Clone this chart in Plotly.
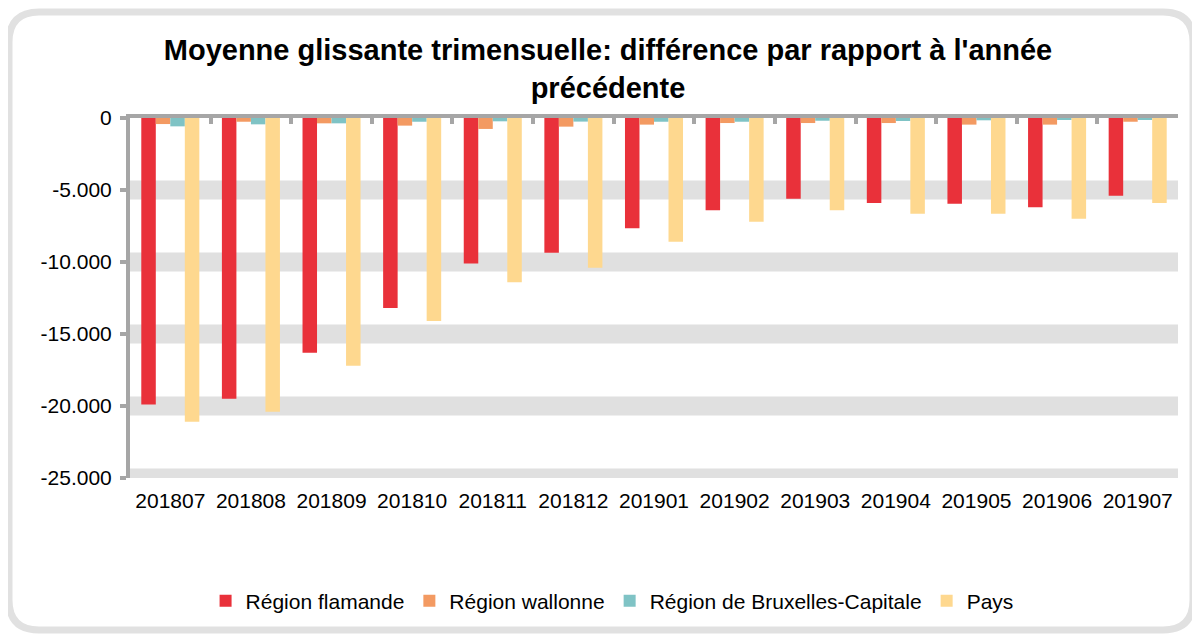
"""
Moyenne glissante trimensuelle : différence par rapport à l'année précédente.
Bar chart per region, rebuilt in Plotly.
"""

import plotly.graph_objects as go

MONTHS = ["201807", "201808", "201809", "201810", "201811", "201812", "201901",
          "201902", "201903", "201904", "201905", "201906", "201907"]

FLANDRE = [-19900, -19500, -16300, -13200, -10100, -9350, -7650,
           -6400, -5600, -5900, -5950, -6200, -5400]
WALLONIE = [-420, -260, -370, -530, -760, -600, -460,
            -350, -350, -350, -460, -460, -260]
BRUXELLES = [-580, -440, -370, -260, -230, -250, -260,
             -260, -190, -210, -160, -140, -120]
PAYS = [-21100, -20400, -17200, -14100, -11400, -10400, -8600,
        -7200, -6400, -6650, -6650, -7000, -5900]

SERIES_NAMES = ["Région flamande", "Région wallonne", "Région de Bruxelles-Capitale", "Pays"]
SERIES_COLORS = ["#e9313a", "#f39a62", "#7fc3c5", "#fed88f"]

Y_TICKS = [0, -5000, -10000, -15000, -20000, -25000]
Y_TICK_LABELS = ["0", "-5.000", "-10.000", "-15.000", "-20.000", "-25.000"]

TITLE = "Moyenne glissante trimensuelle: différence par rapport à l'année<br>précédente"

FONT = "Liberation Sans, Arial, sans-serif"
AXIS_GREY = "#a6a6a6"
BAND_GREY = "#e0e0e0"

# the page body has an 8px margin, so the figure is shrunk by that much
BODY = 8
W, H = 1200 - BODY, 635 - BODY
M = dict(l=122, r=22, t=110, b=157)


def to_paper(px, py):
    # pixel position on the page -> paper coordinates of the plot area
    pw = W - M["l"] - M["r"]
    ph = H - M["t"] - M["b"]
    fx, fy = px - BODY, py - BODY
    return (fx - M["l"]) / pw, (H - M["b"] - fy) / ph


def rounded_rect_path(x0, y0, x1, y1, r):
    pts = [
        ("M", [(x0 + r, y0)]),
        ("L", [(x1 - r, y0)]),
        ("Q", [(x1, y0), (x1, y0 + r)]),
        ("L", [(x1, y1 - r)]),
        ("Q", [(x1, y1), (x1 - r, y1)]),
        ("L", [(x0 + r, y1)]),
        ("Q", [(x0, y1), (x0, y1 - r)]),
        ("L", [(x0, y0 + r)]),
        ("Q", [(x0, y0), (x0 + r, y0)]),
    ]
    parts = []
    for cmd, coords in pts:
        xy = " ".join(f"{a:.5f},{b:.5f}" for a, b in (to_paper(*c) for c in coords))
        parts.append(f"{cmd} {xy}")
    return " ".join(parts) + " Z"


fig = go.Figure()

for name, vals, color in zip(SERIES_NAMES, [FLANDRE, WALLONIE, BRUXELLES, PAYS], SERIES_COLORS):
    fig.add_trace(go.Bar(
        x=MONTHS, y=vals, name=name,
        marker=dict(color=color, line=dict(width=0)),
        hovertemplate="%{x}<br>" + name + ": %{y:,.0f}<extra></extra>",
    ))

# invisible trace so the top category axis (line + boundary ticks) gets drawn
fig.add_trace(go.Scatter(
    x=MONTHS, y=[0] * len(MONTHS), xaxis="x2", mode="markers",
    marker=dict(opacity=0), showlegend=False, hoverinfo="skip",
))

# thick pale gridlines (bands) at every tick except 0
shapes = []
for v in Y_TICKS:
    if v == 0:
        continue
    shapes.append(dict(
        type="line", xref="paper", x0=0, x1=1, yref="y", y0=v, y1=v,
        line=dict(color=BAND_GREY, width=19), layer="below",
    ))

# rounded outer frame
shapes.append(dict(
    type="path", xref="paper", yref="paper",
    path=rounded_rect_path(9, 12, 1193, 630, 30),
    line=dict(color="#e1e1e1", width=7), layer="below",
))

n = len(MONTHS)

fig.update_layout(
    width=W, height=H,
    margin=M,
    paper_bgcolor="white",
    plot_bgcolor="rgba(0,0,0,0)",
    font=dict(family=FONT, size=21, color="#000000"),
    title=dict(
        text="<b>" + TITLE + "</b>",
        font=dict(family=FONT, size=29, color="#000000"),
        x=600 / W, xanchor="center",
        y=1 - 52 / H, yanchor="top", yref="container",
    ),
    barmode="group",
    bargap=0.28,
    bargroupgap=0,
    shapes=shapes,
    legend=dict(
        orientation="h",
        x=0.46, xanchor="center",
        y=-0.342, yanchor="middle",
        font=dict(family=FONT, size=21, color="#000000"),
        bgcolor="rgba(0,0,0,0)",
        traceorder="normal",
    ),
    xaxis=dict(
        type="category", range=[-0.5, n - 0.5],
        showline=False, showgrid=False, zeroline=False,
        ticks="", ticklabelstandoff=8,
        tickfont=dict(size=21),
    ),
    xaxis2=dict(
        type="category", range=[-0.5, n - 0.5],
        overlaying="x", side="top", anchor="y",
        showline=True, linewidth=4, linecolor=AXIS_GREY,
        ticks="inside", tickson="boundaries", ticklen=6, tickwidth=4, tickcolor=AXIS_GREY,
        showticklabels=False, showgrid=False, zeroline=False,
    ),
    yaxis=dict(
        range=[-25000, 0],
        tickvals=Y_TICKS, ticktext=Y_TICK_LABELS,
        showline=True, linewidth=4, linecolor=AXIS_GREY,
        ticks="outside", ticklen=6, tickwidth=4, tickcolor=AXIS_GREY,
        ticklabelstandoff=4,
        showgrid=False, zeroline=False,
        tickfont=dict(size=21),
    ),
)

fig.write_html("out.html")
